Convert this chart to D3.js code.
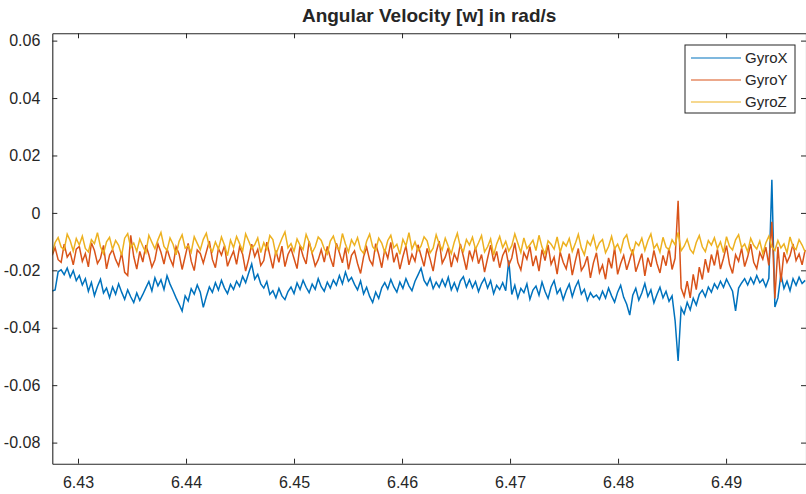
<!DOCTYPE html>
<html>
<head>
<meta charset="utf-8">
<script src="https://cdn.jsdelivr.net/npm/d3@7/dist/d3.min.js"></script>
<style>
  html, body { margin: 0; padding: 0; background: #fff; }
  svg { display: block; font-family: 'Liberation Sans', Arial, Helvetica, sans-serif; }
</style>
</head>
<body>
<svg id="chart" width="806" height="494"></svg>
<script>
//

const title = 'Angular Velocity [w] in rad/s'
const seriesNames = ['GyroX', 'GyroY', 'GyroZ']
const xTicks = [6.43, 6.44, 6.45, 6.46, 6.47, 6.48, 6.49]
const yTicks = [0.06, 0.04, 0.02, 0, -0.02, -0.04, -0.06, -0.08]
const xDomain = [6.42762, 6.4974]
const yDomain = [-0.08735, 0.06255]

// samples are evenly spaced in time
const tStart = 6.4276
const tStep = 0.00028

const gyroX = [
  -0.0272, -0.0268, -0.0205, -0.0198, -0.0215, -0.0192, -0.0224, -0.0201, -0.0236, -0.0218,
  -0.0251, -0.0229, -0.0273, -0.0242, -0.0288, -0.0256, -0.0231, -0.0279, -0.0262, -0.0295,
  -0.0258, -0.0283, -0.0247, -0.0276, -0.0301, -0.0268, -0.0292, -0.0312, -0.0279, -0.0305,
  -0.0284, -0.0261, -0.0239, -0.0272, -0.0226, -0.0254, -0.0233, -0.0267, -0.0219, -0.0248,
  -0.0271, -0.0296, -0.0318, -0.0342, -0.0289, -0.0307, -0.0264, -0.0283, -0.0251, -0.0276,
  -0.0329, -0.0291, -0.0258, -0.0277, -0.0243, -0.0269, -0.0235, -0.0262, -0.0281, -0.0249,
  -0.0267, -0.0238, -0.0256, -0.0221, -0.0243, -0.0209, -0.0178, -0.0231, -0.0214, -0.0247,
  -0.0262, -0.0239, -0.0284, -0.0271, -0.0296, -0.0263, -0.0289, -0.0302, -0.0274, -0.0258,
  -0.0281, -0.0244, -0.0267, -0.0235, -0.0259, -0.0278, -0.0248, -0.0266, -0.0229, -0.0257,
  -0.0273, -0.0241, -0.0262, -0.0234, -0.0252, -0.0218, -0.0247, -0.0206, -0.0238, -0.0225,
  -0.0249, -0.0268, -0.0237, -0.0282, -0.0259, -0.0291, -0.0312, -0.0276, -0.0298, -0.0261,
  -0.0243, -0.0265, -0.0232, -0.0258, -0.0276, -0.0241, -0.0263, -0.0229, -0.0254, -0.0271,
  -0.0238, -0.0216, -0.0193, -0.0235, -0.0252, -0.0227, -0.0264, -0.0241, -0.0259, -0.0232,
  -0.0256, -0.0224, -0.0268, -0.0243, -0.0271, -0.0237, -0.0222, -0.0258, -0.0233, -0.0261,
  -0.0239, -0.0274, -0.0246, -0.0228, -0.0262, -0.0236, -0.0281, -0.0252, -0.0267, -0.0243,
  -0.0271, -0.0165, -0.0284, -0.0252, -0.0296, -0.0263, -0.0278, -0.0247, -0.0301, -0.0269,
  -0.0255, -0.0287, -0.0241, -0.0274, -0.0298, -0.0258, -0.0236, -0.0281, -0.0264, -0.0302,
  -0.0271, -0.0248, -0.0292, -0.0259, -0.0237, -0.0283, -0.0266, -0.0305, -0.0278, -0.0294,
  -0.0286, -0.0301, -0.0273, -0.0297, -0.0262, -0.0289, -0.0311, -0.0276, -0.0252, -0.0294,
  -0.0318, -0.0356, -0.0287, -0.0263, -0.0304, -0.0279, -0.0246, -0.0291, -0.0268, -0.0313,
  -0.0284, -0.0259, -0.0296, -0.0273, -0.0308, -0.0289, -0.0375, -0.0516, -0.0331, -0.0352,
  -0.0312, -0.0338, -0.0297, -0.0321, -0.0284, -0.0269, -0.0292, -0.0258, -0.0276, -0.0247,
  -0.0264, -0.0238, -0.0259, -0.0231, -0.0252, -0.0273, -0.0341, -0.0262, -0.0244, -0.0229,
  -0.0251, -0.0226, -0.0247, -0.0218, -0.0243, -0.0231, -0.0257, -0.0228, 0.0115, -0.0328,
  -0.0296, -0.0214, -0.0263, -0.0238, -0.0271, -0.0229, -0.0252, -0.0224, -0.0246, -0.0235
]

const gyroY = [
  -0.0148, -0.0121, -0.0163, -0.0172, -0.0109, -0.0154, -0.0138, -0.0181, -0.0126, -0.0117,
  -0.0169, -0.0142, -0.0188, -0.0104, -0.0131, -0.0176, -0.0158, -0.0113, -0.0195, -0.0147,
  -0.0128, -0.0162, -0.0185, -0.0139, -0.0207, -0.0218, -0.0078, -0.0152, -0.0196, -0.0134,
  -0.0171, -0.0112, -0.0146, -0.0189, -0.0163, -0.0108, -0.0137, -0.0178, -0.0125, -0.0159,
  -0.0184, -0.0118, -0.0143, -0.0197, -0.0152, -0.0106, -0.0168, -0.0201, -0.0129, -0.0141,
  -0.0175, -0.0136, -0.0098, -0.0162, -0.0191, -0.0124, -0.0147, -0.0114, -0.0186, -0.0157,
  -0.0133, -0.0179, -0.0118, -0.0144, -0.0203, -0.0161, -0.0109, -0.0152, -0.0127, -0.0183,
  -0.0166, -0.0102, -0.0148, -0.0193, -0.0131, -0.0172, -0.0116, -0.0187, -0.0145, -0.0124,
  -0.0159, -0.0194, -0.0113, -0.0151, -0.0178, -0.0099, -0.0142, -0.0185, -0.0163, -0.0128,
  -0.0171, -0.0117, -0.0156, -0.0188, -0.0106, -0.0139, -0.0174, -0.0121, -0.0197, -0.0148,
  -0.0132, -0.0176, -0.0211, -0.0153, -0.0119, -0.0164, -0.0182, -0.0107, -0.0145, -0.0191,
  -0.0127, -0.0158, -0.0103, -0.0172, -0.0139, -0.0196, -0.0152, -0.0115, -0.0181, -0.0144,
  -0.0168, -0.0111, -0.0149, -0.0186, -0.0124, -0.0161, -0.0203, -0.0137, -0.0098, -0.0175,
  -0.0154, -0.0121, -0.0189, -0.0143, -0.0167, -0.0108, -0.0152, -0.0198, -0.0131, -0.0164,
  -0.0119, -0.0177, -0.0145, -0.0206, -0.0158, -0.0112, -0.0169, -0.0134, -0.0191, -0.0148,
  -0.0126, -0.0183, -0.0157, -0.0104, -0.0172, -0.0199, -0.0138, -0.0161, -0.0117, -0.0185,
  -0.0149, -0.0203, -0.0128, -0.0166, -0.0111, -0.0179, -0.0154, -0.0213, -0.0136, -0.0172,
  -0.0195, -0.0142, -0.0217, -0.0168, -0.0124, -0.0201, -0.0183, -0.0151, -0.0226, -0.0174,
  -0.0139, -0.0208, -0.0182, -0.0231, -0.0157, -0.0193, -0.0121, -0.0214, -0.0176, -0.0148,
  -0.0198, -0.0163, -0.0127, -0.0205, -0.0174, -0.0142, -0.0219, -0.0156, -0.0188, -0.0131,
  -0.0176, -0.0209, -0.0148, -0.0184, -0.0122, -0.0197, -0.0158, 0.0042, -0.0262, -0.0291,
  -0.0238, -0.0296, -0.0214, -0.0267, -0.0189, -0.0232, -0.0161, -0.0208, -0.0145, -0.0183,
  -0.0127, -0.0196, -0.0158, -0.0114, -0.0179, -0.0211, -0.0146, -0.0168, -0.0123, -0.0187,
  -0.0153, -0.0109, -0.0172, -0.0194, -0.0138, -0.0161, -0.0119, -0.0183, -0.0031, -0.0298,
  -0.0118, -0.0241, -0.0137, -0.0172, -0.0149, -0.0108, -0.0166, -0.0143, -0.0181, -0.0129
]

const gyroZ = [
  -0.0141, -0.0103, -0.0086, -0.0119, -0.0128, -0.0074, -0.0097, -0.0133, -0.0089, -0.0112,
  -0.0081, -0.0124, -0.0136, -0.0093, -0.0107, -0.0069, -0.0118, -0.0142, -0.0101, -0.0085,
  -0.0127, -0.0096, -0.0113, -0.0148, -0.0088, -0.0072, -0.0121, -0.0105, -0.0134, -0.0091,
  -0.0116, -0.0139, -0.0078, -0.0102, -0.0125, -0.0094, -0.0068, -0.0117, -0.0131, -0.0087,
  -0.0109, -0.0146, -0.0099, -0.0076, -0.0123, -0.0114, -0.0137, -0.0083, -0.0106, -0.0129,
  -0.0092, -0.0071, -0.0118, -0.0135, -0.0101, -0.0126, -0.0084, -0.0112, -0.0149, -0.0095,
  -0.0121, -0.0082, -0.0107, -0.0133, -0.0073, -0.0098, -0.0124, -0.0111, -0.0087, -0.0138,
  -0.0104, -0.0128, -0.0079, -0.0093, -0.0145, -0.0116, -0.0089, -0.0066, -0.0122, -0.0107,
  -0.0134, -0.0091, -0.0113, -0.0127, -0.0075, -0.0102, -0.0139, -0.0118, -0.0084, -0.0096,
  -0.0125, -0.0143, -0.0098, -0.0081, -0.0116, -0.0129, -0.0072, -0.0108, -0.0136, -0.0094,
  -0.0113, -0.0086, -0.0127, -0.0141, -0.0099, -0.0074, -0.0118, -0.0131, -0.0088, -0.0105,
  -0.0137, -0.0096, -0.0078, -0.0121, -0.0109, -0.0144, -0.0092, -0.0115, -0.0069, -0.0126,
  -0.0101, -0.0132, -0.0115, -0.0083, -0.0097, -0.0139, -0.0123, -0.0076, -0.0108, -0.0129,
  -0.0088, -0.0116, -0.0142, -0.0101, -0.0071, -0.0119, -0.0134, -0.0093, -0.0112, -0.0085,
  -0.0127, -0.0104, -0.0079, -0.0136, -0.0118, -0.0091, -0.0147, -0.0108, -0.0082, -0.0121,
  -0.0099, -0.0133, -0.0114, -0.0073, -0.0106, -0.0138, -0.0087, -0.0124, -0.0111, -0.0095,
  -0.0131, -0.0078, -0.0119, -0.0143, -0.0097, -0.0109, -0.0126, -0.0084, -0.0137, -0.0102,
  -0.0115, -0.0089, -0.0134, -0.0107, -0.0075, -0.0122, -0.0146, -0.0098, -0.0113, -0.0081,
  -0.0128, -0.0104, -0.0093, -0.0139, -0.0117, -0.0082, -0.0125, -0.0109, -0.0136, -0.0091,
  -0.0076, -0.0121, -0.0143, -0.0102, -0.0114, -0.0088, -0.0131, -0.0097, -0.0073, -0.0124,
  -0.0108, -0.0137, -0.0085, -0.0119, -0.0129, -0.0094, -0.0111, -0.0068, -0.0132, -0.0116,
  -0.0092, -0.0127, -0.0141, -0.0103, -0.0079, -0.0118, -0.0135, -0.0096, -0.0112, -0.0087,
  -0.0124, -0.0101, -0.0138, -0.0083, -0.0117, -0.0129, -0.0094, -0.0076, -0.0121, -0.0108,
  -0.0135, -0.0089, -0.0113, -0.0126, -0.0098, -0.0142, -0.0105, -0.0081, -0.0119, -0.0131,
  -0.0096, -0.0122, -0.0108, -0.0139, -0.0084, -0.0117, -0.0128, -0.0093, -0.0112, -0.0136
]

const seriesValues = [gyroX, gyroY, gyroZ]
const seriesColors = ['#0072bd', '#d95319', '#edb120']

//

const ink = '#262626'
const plot = { left: 52.3, top: 33.3, right: 806, bottom: 463.7 }

const svg = d3.select('#chart')

const x = d3.scaleLinear()
  .domain(xDomain)
  .range([plot.left, plot.right])

const y = d3.scaleLinear()
  .domain(yDomain)
  .range([plot.bottom, plot.top])

svg.append('defs')
  .append('clipPath')
  .attr('id', 'plot-clip')
  .append('rect')
  .attr('x', plot.left)
  .attr('y', plot.top)
  .attr('width', plot.right - plot.left)
  .attr('height', plot.bottom - plot.top)

// traces

const line = d3.line()
  .x((v, i) => x(tStart + i * tStep))
  .y((v) => y(v))

svg.append('g')
  .attr('clip-path', 'url(#plot-clip)')
  .selectAll('path')
  .data(seriesValues)
  .join('path')
  .attr('d', line)
  .attr('fill', 'none')
  .attr('stroke', (d, i) => seriesColors[i])
  .attr('stroke-width', 1.5)
  .attr('stroke-linejoin', 'miter')

// axes, box style with inward ticks

const tickLen = 5

const styleAxis = (g) => {
  g.selectAll('.domain').attr('stroke', ink).attr('stroke-width', 1.1)
  g.selectAll('.tick line').attr('stroke', ink).attr('stroke-width', 1)
  g.selectAll('.tick text')
    .attr('fill', ink)
    .style('font-size', '16px')
}

svg.append('g')
  .attr('transform', `translate(0,${plot.bottom})`)
  .call(d3.axisBottom(x)
    .tickValues(xTicks)
    .tickSizeInner(-tickLen)
    .tickSizeOuter(0)
    .tickPadding(13)
    .tickFormat(d3.format('.2f')))
  .call(styleAxis)

svg.append('g')
  .attr('transform', `translate(0,${plot.top})`)
  .call(d3.axisTop(x)
    .tickValues(xTicks)
    .tickSizeInner(-tickLen)
    .tickSizeOuter(0)
    .tickFormat(''))
  .call(styleAxis)

svg.append('g')
  .attr('transform', `translate(${plot.left},0)`)
  .call(d3.axisLeft(y)
    .tickValues(yTicks)
    .tickSizeInner(-tickLen)
    .tickSizeOuter(0)
    .tickPadding(12)
    .tickFormat((d) => d === 0 ? '0' : d3.format('.2f')(d).replace('−', '-')))
  .call(styleAxis)

svg.append('g')
  .attr('transform', `translate(${plot.right},0)`)
  .call(d3.axisRight(y)
    .tickValues(yTicks)
    .tickSizeInner(-tickLen)
    .tickSizeOuter(0)
    .tickFormat(''))
  .call(styleAxis)

// title

svg.append('text')
  .attr('x', (plot.left + plot.right) / 2)
  .attr('y', 22)
  .attr('text-anchor', 'middle')
  .attr('fill', ink)
  .style('font-size', '19px')
  .style('font-weight', 'bold')
  .text(title)

// legend

const legend = svg.append('g')
  .attr('transform', 'translate(685,45)')

legend.append('rect')
  .attr('width', 110)
  .attr('height', 68)
  .attr('fill', '#fff')
  .attr('stroke', ink)
  .attr('stroke-width', 1)

const entry = legend.selectAll('g.entry')
  .data(seriesNames)
  .join('g')
  .attr('class', 'entry')
  .attr('transform', (d, i) => `translate(0,${13 + i * 22})`)

entry.append('line')
  .attr('x1', 6)
  .attr('x2', 56)
  .attr('stroke', (d, i) => seriesColors[i])
  .attr('stroke-width', 1.2)

entry.append('text')
  .attr('x', 60)
  .attr('dy', '0.35em')
  .attr('fill', ink)
  .style('font-size', '15px')
  .text((d) => d)
</script>
</body>
</html>
